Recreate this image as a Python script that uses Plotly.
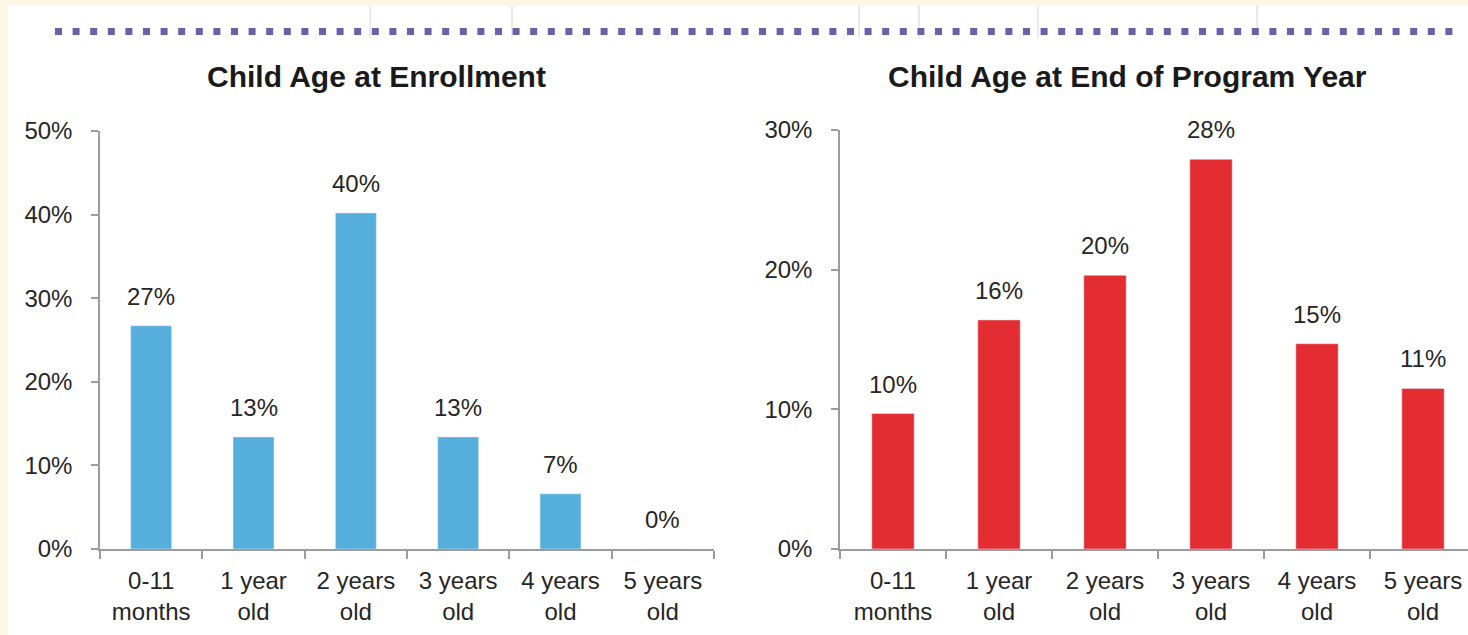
import plotly.graph_objects as go

# ---- data ----
categories = ["0-11<br>months", "1 year<br>old", "2 years<br>old",
              "3 years<br>old", "4 years<br>old", "5 years<br>old"]
enroll_values = [26.7, 13.4, 40.2, 13.4, 6.6, 0.0]
enroll_labels = ["27%", "13%", "40%", "13%", "7%", "0%"]
end_values = [9.7, 16.4, 19.6, 27.9, 14.7, 11.5]
end_labels = ["10%", "16%", "20%", "28%", "15%", "11%"]
left_ticks = [0, 10, 20, 30, 40, 50]
left_tick_text = ["0%", "10%", "20%", "30%", "40%", "50%"]
right_ticks = [0, 10, 20, 30]
right_tick_text = ["0%", "10%", "20%", "30%"]
titles = ["Child Age at Enrollment", "Child Age at End of Program Year"]

# ---- style ----
W, H = 1468, 635
FONT = "Liberation Sans, Arial, sans-serif"
TXT = "#262626"
AX = "#9c9c9c"
BLUE = "#56AEDC"
RED = "#E32D33"
CREAM = "#FEF6E4"
PURPLE = "#6B5FA6"


def px(x):
    return x / W


def py(y):
    return 1 - y / H


fig = go.Figure()
fig.add_trace(go.Bar(x=categories, y=enroll_values, marker_color=BLUE,
                     xaxis="x", yaxis="y", showlegend=False, hoverinfo="skip"))
fig.add_trace(go.Bar(x=categories, y=end_values, marker_color=RED,
                     xaxis="x2", yaxis="y2", showlegend=False, hoverinfo="skip"))

annotations = []
for c, v, lab in zip(categories, enroll_values, enroll_labels):
    annotations.append(dict(x=c, y=v, xref="x", yref="y", text=lab, showarrow=False,
                            yanchor="bottom", yshift=14,
                            font=dict(family=FONT, size=24, color=TXT)))
for c, v, lab in zip(categories, end_values, end_labels):
    annotations.append(dict(x=c, y=v, xref="x2", yref="y2", text=lab, showarrow=False,
                            yanchor="bottom", yshift=14,
                            font=dict(family=FONT, size=24, color=TXT)))
for t, cx in zip(titles, [376, 1127]):
    annotations.append(dict(x=px(cx), y=py(76), xref="paper", yref="paper", text="<b>%s</b>" % t,
                            showarrow=False, xanchor="center", yanchor="middle",
                            font=dict(family=FONT, size=30, color="#1a1a1a")))

shapes = [
    dict(type="rect", xref="paper", yref="paper", x0=px(8), x1=1, y0=0, y1=py(6),
         fillcolor="white", line=dict(width=0), layer="below"),
    dict(type="line", xref="paper", yref="paper", x0=px(55), x1=px(1462), y0=py(31.5), y1=py(31.5),
         line=dict(color=PURPLE, width=7, dash="7px,10.6px"), layer="above"),
]
for vx in [370, 512, 859, 919, 1038, 1257]:
    shapes.append(dict(type="line", xref="paper", yref="paper", x0=px(vx), x1=px(vx),
                       y0=py(6), y1=py(38), line=dict(color="#d4d4d4", width=1), layer="below"))

xcommon = dict(type="category", showline=True, linecolor=AX, linewidth=1.5,
               ticks="outside", tickson="boundaries", ticklen=8, tickcolor=AX, tickwidth=1.5,
               tickfont=dict(family=FONT, size=24, color=TXT), showgrid=False,
               zeroline=False, automargin=False, fixedrange=True, ticklabelstandoff=9)
ycommon = dict(showline=True, linecolor=AX, linewidth=1.5, ticks="outside", ticklen=7,
               tickcolor=AX, tickwidth=1.5, showgrid=False, zeroline=False,
               tickfont=dict(family=FONT, size=24, color=TXT), automargin=False,
               ticklabelstandoff=14, fixedrange=True, tickmode="array")

fig.update_layout(
    width=W, height=H, autosize=False,
    margin=dict(l=0, r=0, t=0, b=0, pad=0),
    paper_bgcolor=CREAM, plot_bgcolor="rgba(0,0,0,0)",
    bargap=0.6,
    xaxis=dict(domain=[px(100), px(714)], range=[-0.5, 5.5], anchor="y", **xcommon),
    yaxis=dict(domain=[py(549), py(131)], range=[0, 50], tickvals=left_ticks,
               ticktext=left_tick_text, anchor="x", **ycommon),
    xaxis2=dict(domain=[px(840), 1.0], range=[-0.5, -0.5 + (1468 - 840) / 106.0], anchor="y2", **xcommon),
    yaxis2=dict(domain=[py(549), py(130)], range=[0, 30], tickvals=right_ticks,
                ticktext=right_tick_text, anchor="x2", **ycommon),
    annotations=annotations,
    shapes=shapes,
)

fig.write_html(
    "out.html",
    config={"displayModeBar": False},
    post_script="document.body.style.margin='0';document.body.style.padding='0';"
                "document.body.style.background='%s';" % CREAM,
)
